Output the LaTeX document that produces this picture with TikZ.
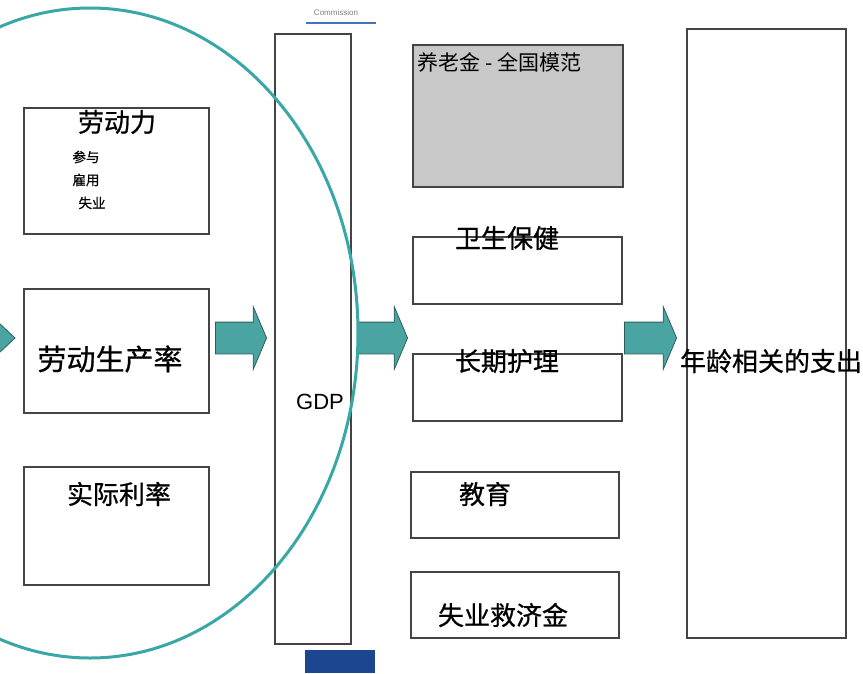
\documentclass[tikz,border=0pt]{standalone}
\usepackage{fontspec}
\setmainfont{Noto Sans CJK SC}
\newfontfamily\cjkheavy[FakeBold=0.7]{Noto Sans CJK SC}
\newfontfamily\latinsans{Liberation Sans}
\usetikzlibrary{shapes.arrows,positioning}

\definecolor{boxgray}{HTML}{444444}
\definecolor{pensiongray}{HTML}{C8C8C8}
\definecolor{arrowteal}{HTML}{4AA5A2}
\definecolor{arrowedge}{HTML}{2E5E5C}
\definecolor{ringteal}{HTML}{3AA7A7}
\definecolor{commblue}{HTML}{4472C4}
\definecolor{navyblock}{HTML}{1D4690}

\begin{document}
\begin{tikzpicture}[x=1pt,y=-1pt,line width=1.7pt]
    % `box' is used for every rectangle, `flow' for the teal block arrows.
    % `heading' and `subitem' are the two text sizes.
    \tikzstyle{box} = [draw=boxgray,fill=white,anchor=north west,inner sep=0pt]
    \tikzstyle{flow} = [shape=single arrow,draw=arrowedge,fill=arrowteal,line width=0.8pt,inner xsep=0pt,inner ysep=15.5pt,single arrow head extend=15.5pt,single arrow tip angle=134,anchor=tip]
    \tikzstyle{heading} = [font=\cjkheavy\fontsize{26}{26}\selectfont,inner sep=0pt]
    \tikzstyle{subitem} = [font=\cjkheavy\fontsize{13.5}{14}\selectfont,inner sep=0pt]
    \tikzstyle{ring} = [draw=ringteal,line width=3pt]
    %
    \useasboundingbox (0,0) rectangle (863,673);

    % Header mark and footer block.
    \node[font=\latinsans\fontsize{8}{8}\selectfont,text=gray] (comm) at (336,13) {Commission};
    \draw[commblue,line width=2.5pt] (306,23) -- (376,23);
    \fill[navyblock] (305,650) rectangle (375,673);

    % Left column: the drivers.
    \node[box,minimum width=185pt,minimum height=126pt] (labour) at (23,107) {};
    \node[box,minimum width=185pt,minimum height=124pt] (product) at (23,288) {};
    \node[box,minimum width=185pt,minimum height=118pt] (interest) at (23,466) {};

    % Middle: GDP.
    \node[box,minimum width=76pt,minimum height=610pt] (gdp) at (274,33) {};

    % Right column: spending items.
    \node[box,fill=pensiongray,minimum width=210pt,minimum height=142pt] (pension) at (412,44) {};
    \node[box,minimum width=209pt,minimum height=67pt] (health) at (412,236) {};
    \node[box,minimum width=209pt,minimum height=67pt] (ltcare) at (412,353) {};
    \node[box,minimum width=208pt,minimum height=66pt] (educ) at (410,471) {};
    \node[box,minimum width=208pt,minimum height=66pt] (unemp) at (410,571) {};

    % Far right: the total.
    \node[box,minimum width=159pt,minimum height=609pt] (total) at (686,28) {};

    % Texts.
    \node[heading] (labourtxt) at (117,122) {劳动力};
    \node[subitem] (part) at (86,157) {参与};
    \node[subitem] (empl) at (86,180) {雇用};
    \node[subitem] (unempl) at (92,203) {失业};
    \node[heading,font=\cjkheavy\fontsize{29}{29}\selectfont] (producttxt) at (110,359) {劳动生产率};
    \node[heading] (interesttxt) at (119,494) {实际利率};
    \node[font=\latinsans\fontsize{22}{22}\selectfont,inner sep=0pt] (gdptxt) at (320,402) {GDP};
    \node[anchor=west,font=\fontsize{21}{21}\selectfont,inner sep=0pt] (pensiontxt) at (417,62) {养老金 - 全国模范};
    \node[heading] (healthtxt) at (507,238) {卫生保健};
    \node[heading] (ltcaretxt) at (507,361) {长期护理};
    \node[heading] (eductxt) at (485,494) {教育};
    \node[heading] (unemptxt) at (503,615) {失业救济金};
    \node[heading] (totaltxt) at (771,361) {年龄相关的支出};

    % Block arrows between the columns.
    \fill[arrowteal,draw=arrowedge,line width=0.8pt] (-2,322) -- (15,338) -- (-2,354) -- cycle;
    \node[flow,minimum height=51pt] (flow1) at (267,338) {};
    \node[flow,minimum height=50pt] (flow2) at (408,338) {};
    \node[flow,minimum height=52pt] (flow3) at (677,338) {};

    % The ring round the drivers.
    \draw[ring] (90,333) ellipse [x radius=268pt, y radius=325pt];
\end{tikzpicture}
\end{document}
